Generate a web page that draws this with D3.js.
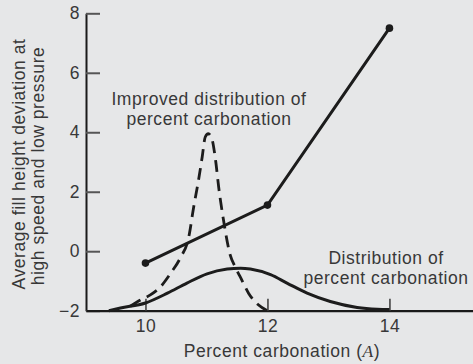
<!DOCTYPE html>
<html>
<head>
<meta charset="utf-8">
<script src="https://cdn.jsdelivr.net/npm/d3@7/dist/d3.min.js"></script>
<style>
  html, body { margin: 0; padding: 0; background: #e6e7e8; }
  svg { display: block; }
  text { font-family: "Liberation Sans", Arial, sans-serif; fill: #383838; }
</style>
</head>
<body>
<script>
// Fill-height deviation vs. percent carbonation
const trendX = [10, 12, 14];
const trendY = [-0.4, 1.55, 7.5];

// Current distribution of percent carbonation (solid bell)
const distX = [9.4, 9.59, 10.0, 10.36, 10.68, 11.01, 11.34, 11.56, 11.72, 12.05, 12.32, 12.65, 13.03, 13.47, 13.8, 14.0];
const distY = [-2.0, -1.91, -1.74, -1.41, -1.07, -0.76, -0.6, -0.57, -0.6, -0.79, -1.07, -1.41, -1.69, -1.89, -1.95, -1.96];

// Improved (narrower) distribution (dashed peak)
const impX = [9.75, 9.92, 10.08, 10.25, 10.41, 10.57, 10.71, 10.79, 10.87, 10.93, 10.98, 11.03, 11.08, 11.15, 11.2, 11.28, 11.39, 11.47, 11.58, 11.69, 11.85, 12.0];
const impY = [-1.85, -1.64, -1.47, -1.19, -0.75, -0.23, 0.48, 1.48, 2.39, 3.17, 3.84, 3.95, 3.84, 3.05, 2.16, 1.04, -0.13, -0.52, -0.97, -1.41, -1.8, -2.0];

const xTicks = [10, 12, 14];
const yTicks = [-2, 0, 2, 4, 6, 8];
const xDomain = [9.025, 15.37];
const yDomain = [-2, 8];

const W = 473, H = 364;
const svg = d3.select("body").append("svg").attr("width", W).attr("height", H);

const x = d3.scaleLinear().domain(xDomain).range([86, 473]);
const y = d3.scaleLinear().domain(yDomain).range([310.7, 13.3]);

const fontSize = "17.5px";
const spacing = "0.55px";
const fontFamily = "Liberation Sans, Arial, sans-serif";

// Y axis: ticks point inward
const yAxis = svg.append("g").attr("transform", "translate(86,0)")
  .call(d3.axisLeft(y).tickValues(yTicks).tickSizeInner(-14).tickSizeOuter(0).tickPadding(6)
    .tickFormat(d => d < 0 ? "\u2212" + Math.abs(d) : String(d)));
yAxis.select(".domain").attr("stroke", "#1a1a1a").attr("stroke-width", 2);
yAxis.selectAll(".tick line").attr("stroke", "#555").attr("stroke-width", 2);
yAxis.selectAll(".tick text").attr("font-size", fontSize).attr("letter-spacing", spacing)
  .attr("font-family", fontFamily).attr("fill", "#383838");

// X axis: ticks point up
const xAxis = svg.append("g").attr("transform", `translate(0,${y(-2)})`)
  .call(d3.axisBottom(x).tickValues(xTicks).tickSizeInner(-12).tickSizeOuter(0).tickPadding(8.5)
    .tickFormat(d3.format("d")));
xAxis.select(".domain").attr("stroke", "#1a1a1a").attr("stroke-width", 2.2);
xAxis.selectAll(".tick line").attr("stroke", "#444").attr("stroke-width", 1.6);
xAxis.selectAll(".tick text").attr("font-size", fontSize).attr("letter-spacing", spacing)
  .attr("font-family", fontFamily).attr("fill", "#383838");

const line = d3.line().curve(d3.curveMonotoneX);
const ink = "#1c1c1c";

// Solid distribution curve
svg.append("path")
  .attr("d", line(distX.map((v, i) => [x(v), y(distY[i])])))
  .attr("fill", "none").attr("stroke", ink).attr("stroke-width", 3);

// Dashed improved distribution
svg.append("path")
  .attr("d", line(impX.map((v, i) => [x(v), y(impY[i])])))
  .attr("fill", "none").attr("stroke", ink).attr("stroke-width", 2.8)
  .attr("stroke-dasharray", "12,7");

// Fill-height deviation polyline with markers
svg.append("path")
  .attr("d", d3.line()(trendX.map((v, i) => [x(v), y(trendY[i])])))
  .attr("fill", "none").attr("stroke", ink).attr("stroke-width", 3);
svg.selectAll("circle.pt").data(trendX).enter().append("circle")
  .attr("class", "pt")
  .attr("cx", d => x(d)).attr("cy", (d, i) => y(trendY[i]))
  .attr("r", 3.8).attr("fill", ink);

// Text labels
function label(lines, cx, baselines) {
  lines.forEach((t, i) => {
    svg.append("text").attr("x", cx).attr("y", baselines[i])
      .attr("text-anchor", "middle").attr("font-size", fontSize)
      .attr("letter-spacing", spacing).text(t);
  });
}
label(["Improved distribution of", "percent carbonation"], 209, [105, 125]);
label(["Distribution of", "percent carbonation"], 386, [263.5, 283.5]);

// Axis titles
const xt = svg.append("text").attr("x", 282).attr("y", 357)
  .attr("text-anchor", "middle").attr("font-size", fontSize).attr("letter-spacing", spacing);
xt.append("tspan").text("Percent carbonation (");
xt.append("tspan").attr("font-style", "italic").attr("font-family", "Liberation Serif, serif").text("A");
xt.append("tspan").text(")");

const yTitle = ["Average fill height deviation at", "high speed and low pressure"];
[[24.5, 164], [44, 166]].forEach(([bx, cy], i) => {
  svg.append("text").attr("transform", `translate(${bx},${cy}) rotate(-90)`)
    .attr("text-anchor", "middle").attr("font-size", fontSize)
    .attr("letter-spacing", spacing).text(yTitle[i]);
});
</script>
</body>
</html>
